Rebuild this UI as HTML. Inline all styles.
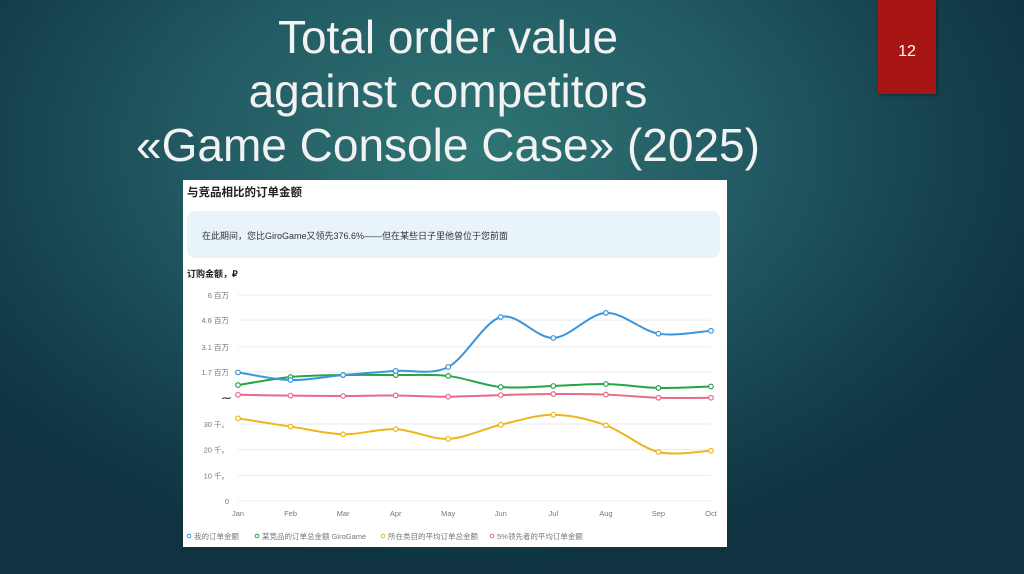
<!DOCTYPE html>
<html><head><meta charset="utf-8">
<style>
html,body{margin:0;padding:0;width:1024px;height:574px;overflow:hidden}
body{background:radial-gradient(ellipse 620px 420px at 470px 150px,#2f7573 0%,#225a63 45%,#143f4b 80%,#0f3340 100%);font-family:"Liberation Sans","Noto Sans CJK SC",sans-serif;position:relative}
.title{position:absolute;left:48px;width:800px;top:10px;text-align:center;color:#f2f2f2;font-size:46px;line-height:54px;font-weight:300}
.num{position:absolute;left:878px;top:0;width:58px;height:94px;background:#a81515;color:#fff;font-size:16px;text-align:center;line-height:104px;box-shadow:1px 1px 3px rgba(0,0,0,.4)}
.card{position:absolute;left:183px;top:180px;width:544px;height:367px;background:#fff}
</style></head><body>
<div class="title">Total order value<br>against competitors<br>«Game Console Case» (2025)</div>
<div class="num">12</div>
<div class="card">
<svg width="544" height="367" viewBox="183 180 544 367" id="chart">
<text x="187" y="196" font-size="11.5" font-weight="bold" fill="#222" font-family="Liberation Sans,Noto Sans CJK SC,sans-serif">与竞品相比的订单金额</text>
<rect x="187" y="211" width="533" height="47" rx="8" fill="#e8f4fa"/>
<text x="202" y="239" font-size="9" fill="#333" font-family="Liberation Sans,Noto Sans CJK SC,sans-serif">在此期间，您比GiroGame又领先376.6%——但在某些日子里他曾位于您前面</text>
<text x="187" y="277" font-size="9" font-weight="bold" fill="#222" font-family="Liberation Sans,Noto Sans CJK SC,sans-serif">订购金额，₽</text>
<g id="grid"></g><g id="lines"></g><g id="legend"></g>
</svg>
</div>
<script>
const months=["Jan","Feb","Mar","Apr","May","Jun","Jul","Aug","Sep","Oct"];
const myOrders=[1.68,1.25,1.53,1.76,1.98,4.77,3.6,5.0,3.84,4.0];
const giroGame=[0.97,1.42,1.53,1.53,1.48,0.86,0.92,1.03,0.81,0.89];
const top5Avg=[0.43,0.38,0.36,0.39,0.32,0.41,0.47,0.44,0.26,0.26];
const categoryAvgK=[32.2,29.0,26.0,28.0,24.2,29.7,33.6,29.5,19.1,19.6];
const upperTicks=[6,4.6,3.1,1.7];
const upperLabels=["6 百万","4.6 百万","3.1 百万","1.7 百万"];
const lowerTicks=[30,20,10,0];
const lowerLabels=["30 千。","20 千。","10 千。","0"];
const legendLabels=["我的订单金额","某竞品的订单总金额 GiroGame","所在类目的平均订单总金额","5%领先者的平均订单金额"];
const colors=["#3a95dd","#27a348","#ecb71c","#e8698c"];
const NS="http://www.w3.org/2000/svg";
const x=i=>238+i*(711-238)/(months.length-1);
const yM=v=>372-(v-1.7)*(77/4.3);
const yK=v=>501-v*(77/30);
function mk(tag,attrs,parent){const e=document.createElementNS(NS,tag);for(const k in attrs)e.setAttribute(k,attrs[k]);parent.appendChild(e);return e;}
const grid=document.getElementById('grid'),lines=document.getElementById('lines'),leg=document.getElementById('legend');
const F="Liberation Sans,Noto Sans CJK SC,sans-serif";
function tick(y,label){
 const l=mk('line',{x1:238,x2:711,y1:y,y2:y,stroke:'#ebebeb','stroke-width':1},grid);
 
 
 const t=mk('text',{x:229,y:y+3,'font-size':7.5,fill:'#777','text-anchor':'end','font-family':F},grid);
 t.textContent=label;
 
 
}
upperTicks.forEach((v,i)=>tick(yM(v),upperLabels[i]));
lowerTicks.forEach((v,i)=>tick(yK(v),lowerLabels[i]));
const br=mk('text',{x:222,y:401,'font-size':9,'font-weight':'bold',fill:'#333','font-family':F},grid);
br.textContent="⁓";


months.forEach((m,i)=>{
 const t=mk('text',{x:x(i),y:516,'font-size':7.5,fill:'#777','text-anchor':'middle','font-family':F},grid);
 t.textContent=m;
 
 
});
function path(pts){
 let d=`M${pts[0][0]},${pts[0][1]}`;
 for(let i=0;i<pts.length-1;i++){
  const p0=pts[i-1]||pts[i],p1=pts[i],p2=pts[i+1],p3=pts[i+2]||p2,k=0.16;
  d+=` C${p1[0]+(p2[0]-p0[0])*k},${p1[1]+(p2[1]-p0[1])*k} ${p2[0]-(p3[0]-p1[0])*k},${p2[1]-(p3[1]-p1[1])*k} ${p2[0]},${p2[1]}`;
 }
 return d;
}
const series=[[myOrders,yM],[giroGame,yM],[categoryAvgK,yK],[top5Avg,yM]];
const names=["series-my-orders","series-girogame","series-category-avg","series-top5-avg"];
[2,3,1,0].forEach(s=>{
 const [vals,ys]=series[s];
 const pts=vals.map((v,i)=>[x(i),ys(v)]);
 const p=mk('path',{d:path(pts),fill:'none',stroke:colors[s],'stroke-width':2},lines);
 
 
 pts.forEach(pt=>{
  const c=mk('circle',{cx:pt[0],cy:pt[1],r:2.3,fill:'#fff',stroke:colors[s],'stroke-width':1.2},lines);
  
  
 });
});
const lx=[189,257,383,492];
legendLabels.forEach((l,i)=>{
 const g=mk('g',{},leg);
 
 
 mk('circle',{cx:lx[i],cy:536,r:1.8,fill:'#fff',stroke:colors[i],'stroke-width':1},g);
 const t=mk('text',{x:lx[i]+5,y:539,'font-size':7.5,fill:'#777','font-family':F},g);
 t.textContent=l;
});
</script>
</body></html>
